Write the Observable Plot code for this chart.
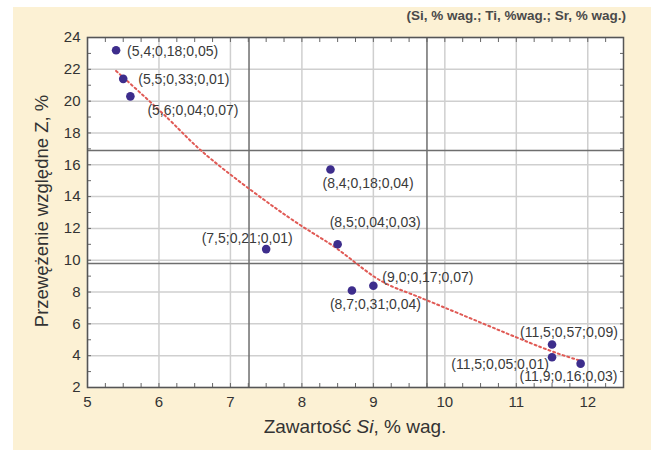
<!DOCTYPE html>
<html><head><meta charset="utf-8">
<script src="https://cdn.jsdelivr.net/npm/d3@7"></script>
<script src="https://cdn.jsdelivr.net/npm/@observablehq/plot@0.6"></script>
<style>
body{margin:0;background:#fff;font-family:"Liberation Sans",Arial,sans-serif;}
#wrap{position:relative;width:651px;height:453px;overflow:hidden}
#panel{position:absolute;left:13px;top:7px;width:638px;height:443px;background:#fcf1d4}
#chart{position:absolute;left:0;top:0}
.lbl{position:absolute;color:#333;white-space:nowrap}
#legend{right:25px;top:8px;line-height:16px;font-size:13.5px;font-weight:bold;color:#4a4a4a}
#xtitle{left:355px;top:416px;line-height:22px;font-size:19px;transform:translateX(-50%)}
#ytitle{left:42px;top:211px;line-height:22px;font-size:18.5px;transform:translate(-50%,-50%) rotate(-90deg)}
</style></head><body>
<div id="wrap"><div id="panel"></div><div id="chart"></div>
<div class="lbl" id="legend">(Si, % wag.; Ti, %wag.; Sr, % wag.)</div>
<div class="lbl" id="xtitle">Zawartość <i>Si</i>, % wag.</div>
<div class="lbl" id="ytitle">Przewężenie względne Z, %</div>
</div>
<script>
// measured points: Si, Ti, Sr (% wag.) and Z (%)
const si = [5.4, 5.5, 5.6, 8.4, 8.5, 7.5, 9.0, 8.7, 11.5, 11.5, 11.9];
const ti = [0.18, 0.33, 0.04, 0.18, 0.04, 0.21, 0.17, 0.31, 0.57, 0.05, 0.16];
const sr = [0.05, 0.01, 0.07, 0.04, 0.03, 0.01, 0.07, 0.04, 0.09, 0.01, 0.03];
const zVal = [23.2, 21.4, 20.3, 15.7, 11.0, 10.7, 8.4, 8.1, 4.7, 3.9, 3.5];

// trend line
const fitSi = [5.4, 6.14, 6.6, 7.28, 7.98, 8.5, 9.0, 9.37, 9.75, 10.77, 11.47, 11.89];
const fitZ  = [21.9, 18.85, 16.85, 14.43, 12.2, 10.7, 9.0, 8.15, 7.48, 5.58, 4.32, 3.69];

// reference lines
const refSi = [7.26, 9.75];
const refZ = [16.9, 9.8];

// ticks
const xTicks = [5, 6, 7, 8, 9, 10, 11, 12];
const yTicks = [2, 4, 6, 8, 10, 12, 14, 16, 18, 20, 22, 24];
const xMinor = d3.range(5, 12.5001, 0.25);
const yMinor = d3.range(2, 24.001, 1);

// label placement (layout only)
const labelLayout = [
  {dx: 11, dy: 1, a: "start"},
  {dx: 15, dy: 1, a: "start"},
  {dx: 17, dy: 14, a: "start"},
  {dx: -8, dy: 14, a: "start"},
  {dx: -8, dy: -22, a: "start"},
  {dx: -19, dy: -11, a: "middle"},
  {dx: 9, dy: -8, a: "start"},
  {dx: -22, dy: 14, a: "start"},
  {dx: -32, dy: -12, a: "start"},
  {dx: -3, dy: 7, a: "end"},
  {dx: -61, dy: 13, a: "start"}
];

const fmt = (v, n) => v.toFixed(n).replace(".", ",");
const points = si.map((s, i) => ({
  si: s, z: zVal[i],
  label: `(${fmt(s, 1)};${fmt(ti[i], 2)};${fmt(sr[i], 2)})`
}));
const fit = fitSi.map((s, i) => ({si: s, z: fitZ[i]}));

const labelMarks = points.map((p, i) => Plot.text([p], {
  x: "si", y: "z", text: "label",
  dx: labelLayout[i].dx, dy: labelLayout[i].dy, textAnchor: labelLayout[i].a,
  fill: "#3a3a3a", fontSize: 14
}));

const noText = () => "";
const chart = Plot.plot({
  width: 651, height: 453,
  marginLeft: 87, marginRight: 28, marginTop: 37, marginBottom: 66,
  style: {background: "transparent", fontFamily: "Liberation Sans, Arial, sans-serif", overflow: "visible"},
  x: {domain: [5, 12.5]},
  y: {domain: [2, 24]},
  marks: [
    Plot.frame({fill: "#fff"}),
    Plot.gridX(xTicks, {stroke: "#cfcfcf", strokeOpacity: 1, strokeWidth: 1.5}),
    Plot.gridY(yTicks, {stroke: "#cfcfcf", strokeOpacity: 1, strokeWidth: 1.5}),
    Plot.ruleX(refSi, {stroke: "#6e6e6e", strokeWidth: 1.5}),
    Plot.ruleY(refZ, {stroke: "#6e6e6e", strokeWidth: 1.5}),
    Plot.line(fit, {x: "si", y: "z", curve: "natural", stroke: "#e05a55", strokeWidth: 2, strokeDasharray: "2,3"}),
    Plot.dot(points, {x: "si", y: "z", r: 4.3, fill: "#3d2d8c"}),
    ...labelMarks,
    Plot.axisX(xMinor, {anchor: "bottom", tickSize: 4, dy: -4, tickFormat: noText, label: null, stroke: "#666"}),
    Plot.axisX(xMinor, {anchor: "top", tickSize: 4, dy: 4, tickFormat: noText, label: null, stroke: "#666"}),
    Plot.axisY(yMinor, {anchor: "left", tickSize: 4, dx: 4, tickFormat: noText, label: null, stroke: "#666"}),
    Plot.axisY(yMinor, {anchor: "right", tickSize: 4, dx: -4, tickFormat: noText, label: null, stroke: "#666"}),
    Plot.axisX(xTicks, {anchor: "bottom", tickSize: 0, tickPadding: 9, fontSize: 15, fill: "#333", label: null}),
    Plot.axisY(yTicks, {anchor: "left", tickSize: 0, tickPadding: 7, fontSize: 15, fill: "#333", label: null}),
    Plot.frame({stroke: "#555", strokeWidth: 1.5})
  ]
});
document.getElementById("chart").append(chart);
</script>
</body></html>
